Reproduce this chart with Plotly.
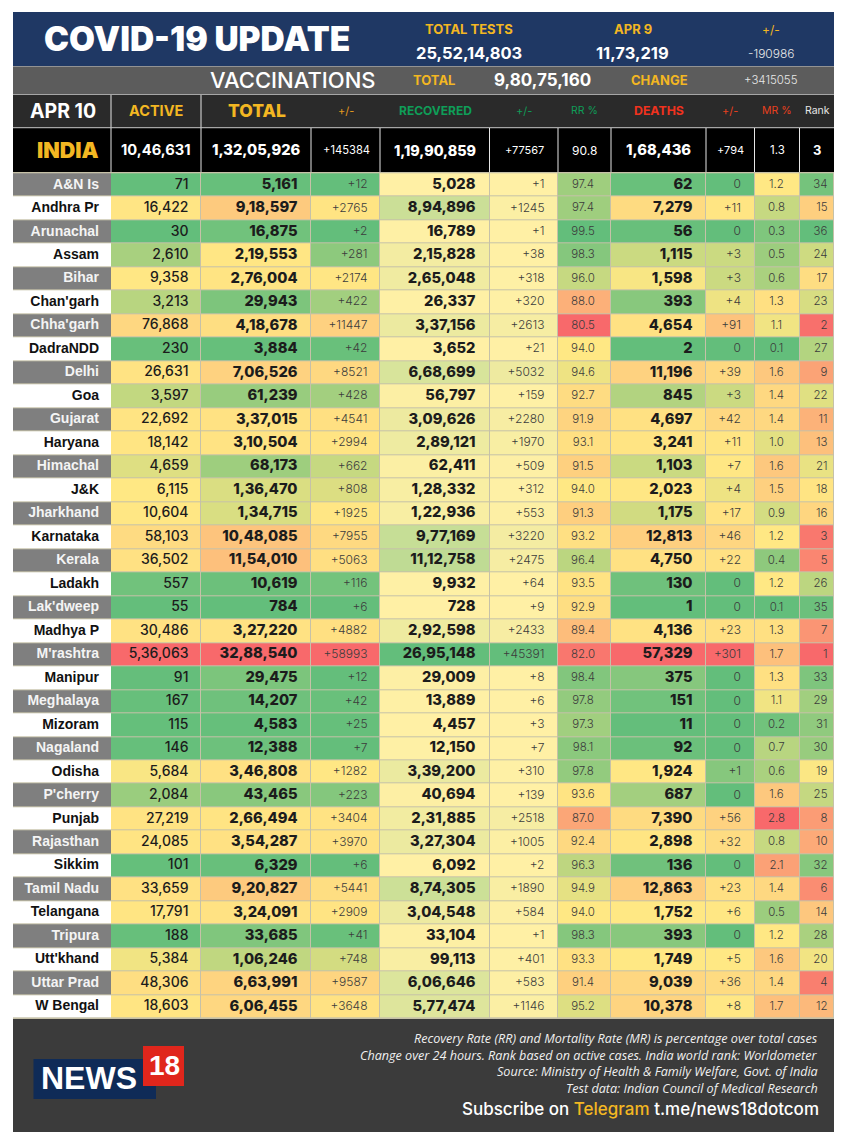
import numpy as np
import plotly.graph_objects as go

states = ["A&N Is", "Andhra Pr", "Arunachal", "Assam", "Bihar", "Chan'garh", "Chha'garh", "DadraNDD", "Delhi", "Goa",
          "Gujarat", "Haryana", "Himachal", "J&K", "Jharkhand", "Karnataka", "Kerala", "Ladakh", "Lak'dweep", "Madhya P",
          "M'rashtra", "Manipur", "Meghalaya", "Mizoram", "Nagaland", "Odisha", "P'cherry", "Punjab", "Rajasthan", "Sikkim",
          "Tamil Nadu", "Telangana", "Tripura", "Utt'khand", "Uttar Prad", "W Bengal"]
active = [71, 16422, 30, 2610, 9358, 3213, 76868, 230, 26631, 3597, 22692, 18142, 4659, 6115, 10604, 58103, 36502, 557,
          55, 30486, 536063, 91, 167, 115, 146, 5684, 2084, 27219, 24085, 101, 33659, 17791, 188, 5384, 48306, 18603]
total = [5161, 918597, 16875, 219553, 276004, 29943, 418678, 3884, 706526, 61239, 337015, 310504, 68173, 136470, 134715,
         1048085, 1154010, 10619, 784, 327220, 3288540, 29475, 14207, 4583, 12388, 346808, 43465, 266494, 354287, 6329,
         920827, 324091, 33685, 106246, 663991, 606455]
totalChange = [12, 2765, 2, 281, 2174, 422, 11447, 42, 8521, 428, 4541, 2994, 662, 808, 1925, 7955, 5063, 116, 6, 4882,
               58993, 12, 42, 25, 7, 1282, 223, 3404, 3970, 6, 5441, 2909, 41, 748, 9587, 3648]
recovered = [5028, 894896, 16789, 215828, 265048, 26337, 337156, 3652, 668699, 56797, 309626, 289121, 62411, 128332,
             122936, 977169, 1112758, 9932, 728, 292598, 2695148, 29009, 13889, 4457, 12150, 339200, 40694, 231885,
             327304, 6092, 874305, 304548, 33104, 99113, 606646, 577474]
recoveredChange = [1, 1245, 1, 38, 318, 320, 2613, 21, 5032, 159, 2280, 1970, 509, 312, 553, 3220, 2475, 64, 9, 2433,
                   45391, 8, 6, 3, 7, 310, 139, 2518, 1005, 2, 1890, 584, 1, 401, 583, 1146]
recoveryRate = [97.4, 97.4, 99.5, 98.3, 96.0, 88.0, 80.5, 94.0, 94.6, 92.7, 91.9, 93.1, 91.5, 94.0, 91.3, 93.2, 96.4,
                93.5, 92.9, 89.4, 82.0, 98.4, 97.8, 97.3, 98.1, 97.8, 93.6, 87.0, 92.4, 96.3, 94.9, 94.0, 98.3, 93.3,
                91.4, 95.2]
deaths = [62, 7279, 56, 1115, 1598, 393, 4654, 2, 11196, 845, 4697, 3241, 1103, 2023, 1175, 12813, 4750, 130, 1, 4136,
          57329, 375, 151, 11, 92, 1924, 687, 7390, 2898, 136, 12863, 1752, 393, 1749, 9039, 10378]
deathsChange = [0, 11, 0, 3, 3, 4, 91, 0, 39, 3, 42, 11, 7, 4, 17, 46, 22, 0, 0, 23, 301, 0, 0, 0, 0, 1, 0, 56, 32, 0,
                23, 6, 0, 5, 36, 8]
mortalityRate = [1.2, 0.8, 0.3, 0.5, 0.6, 1.3, 1.1, 0.1, 1.6, 1.4, 1.4, 1.0, 1.6, 1.5, 0.9, 1.2, 0.4, 1.2, 0.1, 1.3,
                 1.7, 1.3, 1.1, 0.2, 0.7, 0.6, 1.6, 2.8, 0.8, 2.1, 1.4, 0.5, 1.2, 1.6, 1.4, 1.7]
rank = [34, 15, 36, 24, 17, 23, 2, 27, 9, 22, 11, 13, 21, 18, 16, 3, 5, 26, 35, 7, 1, 33, 29, 31, 30, 19, 25, 8, 10, 32,
        6, 14, 28, 20, 4, 12]

indiaRow = ["10,46,631", "1,32,05,926", "+145384", "1,19,90,859", "+77567", "90.8", "1,68,436", "+794", "1.3", "3"]

# page layout, in pixels of the 847x1145 picture
colEdges = [13, 111, 201, 311, 380, 489.5, 558, 611, 706, 754.5, 799.5, 834]
rowTop, rowBottom = 173.3, 1018.6
rowEdges = list(np.linspace(rowTop, rowBottom, len(states) + 1))
rowCenters = [(a + b) / 2 for a, b in zip(rowEdges[:-1], rowEdges[1:])]

NUM = "Inter"
STATE = "Liberation Sans"
GOLD = "#f3b722"
RED = "#f8696b"
YELLOW = "#ffe884"
GREEN = "#63be7b"
PALE = "#fff0a5"


def indian(n):
    s = str(n)
    if len(s) <= 3:
        return s
    head, tail = s[:-3], s[-3:]
    parts = []
    while len(head) > 2:
        parts.insert(0, head[-2:])
        head = head[:-2]
    if head:
        parts.insert(0, head)
    return ",".join(parts) + "," + tail


def threeColor(vals, reverse=False):
    # same idea as a spreadsheet colour scale: min, median, max
    v = np.array(vals, dtype=float)
    lo, mid, hi = v.min(), np.median(v), v.max()
    z = np.where(v <= mid, 0.5 * (v - lo) / (mid - lo), 0.5 + 0.5 * (v - mid) / (hi - mid))
    return 1 - z if reverse else z


def twoColor(vals):
    v = np.array(vals, dtype=float)
    return (v - v.min()) / (v.max() - v.min())


def blank():
    return np.full(len(states), np.nan)


fig = go.Figure()

# red / yellow / green columns
redYellowGreen = np.column_stack([
    blank(), threeColor(active), threeColor(total), threeColor(totalChange), blank(), blank(),
    threeColor(recoveryRate, reverse=True), threeColor(deaths), threeColor(deathsChange),
    threeColor(mortalityRate), threeColor(rank, reverse=True)])
fig.add_trace(go.Heatmap(x=colEdges, y=rowEdges, z=redYellowGreen, zmin=0, zmax=1, showscale=False, hoverinfo="skip",
                         colorscale=[[0, GREEN], [0.5, YELLOW], [1, RED]], xgap=1, ygap=1))

# recovered columns only go pale yellow to green
paleGreen = np.column_stack([blank(), blank(), blank(), blank(), twoColor(recovered), twoColor(recoveredChange),
                             blank(), blank(), blank(), blank(), blank()])
fig.add_trace(go.Heatmap(x=colEdges, y=rowEdges, z=paleGreen, zmin=0, zmax=1, showscale=False, hoverinfo="skip",
                         colorscale=[[0, PALE], [1, GREEN]], xgap=1, ygap=1))

# state names, grey and white stripes
stripes = np.column_stack([[(i + 1) % 2 for i in range(len(states))]] + [blank()] * 10)
fig.add_trace(go.Heatmap(x=colEdges, y=rowEdges, z=stripes, zmin=0, zmax=1, showscale=False, hoverinfo="skip",
                         colorscale=[[0, "#ffffff"], [1, "#7f7f7f"]], ygap=1))


def addColumn(x, labels, size, weight, color="#1c1c1c", pos="middle left", family=NUM):
    fig.add_trace(go.Scatter(x=[x] * len(labels), y=rowCenters, mode="text", text=labels, textposition=pos,
                             hoverinfo="skip", showlegend=False,
                             textfont=dict(family=family, size=size, weight=weight, color=color)))


plus = lambda vals: ["+" + str(v) for v in vals]
plusZero = lambda vals: [("+" + str(v)) if v else "0" for v in vals]

stateColors = ["#f4f4f4" if i % 2 == 0 else "#111111" for i in range(len(states))]
addColumn(99, states, 14, 700, stateColors, family=STATE)
addColumn(188.5, [indian(v) for v in active], 14, 500)
addColumn(297.5, [indian(v) for v in total], 14.7, 800)
addColumn(367.5, plus(totalChange), 12, 300, "#3c3c3c")
addColumn(475.5, [indian(v) for v in recovered], 14.7, 800)
addColumn(544.5, plus(recoveredChange), 12, 300, "#3c3c3c")
addColumn(583, ["%.1f" % v for v in recoveryRate], 11.5, 300, "#3c3c3c", pos="middle center")
addColumn(692.5, [indian(v) for v in deaths], 14.7, 800)
addColumn(741, plusZero(deathsChange), 12, 300, "#3c3c3c")
addColumn(776.5, ["%.1f" % v for v in mortalityRate], 11.5, 300, "#3c3c3c", pos="middle center")
addColumn(827.5, [str(v) for v in rank], 11.5, 300, "#3c3c3c")


def box(x0, y0, x1, y1, color):
    return dict(type="rect", x0=x0, y0=y0, x1=x1, y1=y1, fillcolor=color, line_width=0, layer="below")


shapes = [
    box(13, 12, 834, 66, "#1f3864"),
    box(13, 66, 834, 94.5, "#5c5c5c"),
    box(13, 94.5, 834, 127.5, "#2a2a2a"),
    box(13, 127.5, 834, 172, "#000000"),
    box(13, 172, 834, 1019, "#c6c1a8"),
    box(13, 1019, 834, 1132, "#3b3b3b"),
    box(33.5, 1059, 156, 1099, "#0f2b57"),
    box(143, 1046, 184, 1086, "#e0261c"),
]
for y0, y1 in [(66, 66.7), (94, 95), (127, 128.3)]:
    shapes.append(box(13, y0, 834, y1, "#a6a6a6"))
for x in colEdges[1:3]:
    shapes.append(box(x - 0.5, 95, x + 0.5, 127.5, "#e6e6e6"))
for x in colEdges[1:-1]:
    shapes.append(box(x - 0.5, 128, x + 0.5, 172, "#e6e6e6"))
fig.update_layout(shapes=shapes)


def label(text, x, y, size, color="#ffffff", weight=700, anchor="center", family=NUM, italic=False):
    fig.add_annotation(x=x, y=y, text=text, showarrow=False, xanchor=anchor, yanchor="middle",
                       font=dict(family=family, size=size, color=color, weight=weight,
                                 style="italic" if italic else "normal"))


label("COVID-19 UPDATE", 196.5, 39, 33.5, weight=900)
label("TOTAL TESTS", 469, 29, 13, GOLD)
label("APR 9", 632.5, 29, 13, GOLD)
label("+/-", 771, 29, 12, GOLD, 400)
label("25,52,14,803", 469, 53, 16.5)
label("11,73,219", 632, 53, 16.5)
label("-190986", 771, 53, 12, "#e8e8e8", 300)

label("VACCINATIONS", 292, 80, 22, "#ffffff", 500)
label("TOTAL", 434, 80, 13, GOLD)
label("9,80,75,160", 542, 80, 17)
label("CHANGE", 659, 80, 13, GOLD)
label("+3415055", 771, 80, 11.5, "#e8e8e8", 300)

label("APR 10", 62.5, 110.5, 19.5)
label("ACTIVE", 156.5, 110.5, 14.5, GOLD)
label("TOTAL", 257, 110.5, 17.5, GOLD, 800)
label("+/-", 346, 110.5, 11, "#e39a1e", 400)
label("RECOVERED", 435, 110.5, 12, "#0f9d58")
label("+/-", 524, 110.5, 11, "#0f9d58", 400)
label("RR %", 584.5, 110.5, 10.5, "#0f9d58", 400)
label("DEATHS", 658.5, 110.5, 12.3, "#f0321e")
label("+/-", 730, 110.5, 11, "#e8401e", 400)
label("MR %", 776.5, 110.5, 10.5, "#e8401e", 400)
label("Rank", 817, 110.5, 10.5, "#e6e6e6", 400)

label("INDIA", 67.5, 150, 21.5, GOLD, 900)
indiaCenters = [156, 256.5, 346, 435, 524, 584.5, 658.5, 730, 777, 817]
indiaSizes = [14.7, 14.7, 11.2, 14.3, 11, 12, 14.7, 11, 11.5, 13]
indiaWeights = [700, 800, 400, 800, 400, 400, 800, 400, 400, 700]
for text, x, size, weight in zip(indiaRow, indiaCenters, indiaSizes, indiaWeights):
    label(text, x, 150, size, "#ffffff", weight)

footerLines = ["Recovery Rate (RR) and Mortality Rate (MR) is percentage over total cases",
               "Change over 24 hours. Rank based on active cases. India world rank: Worldometer",
               "Source: Ministry of Health & Family Welfare, Govt. of India",
               "Test data: Indian Council of Medical Research"]
for line, y in zip(footerLines, [1038, 1055, 1071.5, 1088]):
    label(line, 819.5, y, 12.6, "#f0f0f0", 400, "right", "Open Sans", italic=True)
label("Subscribe on <span style='color:%s'>Telegram</span> t.me/news18dotcom" % GOLD, 820.5, 1109, 17, "#ffffff", 500,
      "right")

label("NEWS", 89, 1078, 32, "#ffffff", 700, family="Liberation Sans")
label("18", 164.5, 1065.5, 28, "#ffffff", 700, family="Liberation Sans")

fig.update_xaxes(range=[0, 847], visible=False, fixedrange=True)
fig.update_yaxes(range=[1145, 0], visible=False, fixedrange=True)
fig.update_layout(width=847, height=1145, margin=dict(l=0, r=0, t=0, b=0), showlegend=False,
                  paper_bgcolor="#ffffff", plot_bgcolor="#ffffff")

fig.write_html("out.html", config={"displayModeBar": False},
               post_script="document.body.style.margin='0';document.body.style.overflow='hidden';")
